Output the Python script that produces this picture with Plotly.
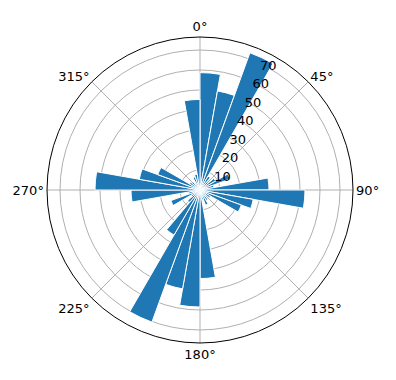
import plotly.graph_objects as go

# sector centers (degrees, clockwise from north) and bar heights
theta_deg = [5, 15, 25, 35, 45, 55, 65, 75, 85, 95, 105, 115, 125, 135, 145, 155, 165, 175,
             185, 195, 205, 215, 225, 235, 245, 255, 265, 275, 285, 295, 305, 315, 325, 335, 345, 355]
heights = [58.7, 50.3, 73.0, 8.0, 5.0, 9.0, 16.0, 7.0, 34.5, 52.5, 27.0, 22.0, 6.0, 4.0, 6.0, 8.0, 5.0, 44.3,
           58.5, 50.2, 70.3, 26.0, 8.0, 5.0, 15.5, 6.0, 34.5, 52.5, 30.8, 22.5, 6.0, 5.0, 4.0, 7.0, 8.0, 45.3]
bar_width = 10

angle_ticks = [0, 45, 90, 135, 180, 225, 270, 315]
angle_labels = ["0°", "45°", "90°", "135°", "180°", "225°", "270°", "315°"]
radial_ticks = [10, 20, 30, 40, 50, 60, 70]

fig = go.Figure(go.Barpolar(
    r=heights,
    theta=theta_deg,
    width=[bar_width] * len(theta_deg),
    marker=dict(color="#1f77b4", line=dict(color="white", width=1)),
))

W, H = 396, 380
cx, cy, R = 200, 190, 153
fig.update_layout(
    width=W, height=H,
    margin=dict(l=0, r=0, t=0, b=0),
    paper_bgcolor="white",
    showlegend=False,
    font=dict(family="DejaVu Sans", size=13, color="black"),
    polar=dict(
        domain=dict(x=[(cx - R) / W, (cx + R) / W], y=[1 - (cy + R) / H, 1 - (cy - R) / H]),
        bgcolor="white",
        bargap=0,
        angularaxis=dict(
            rotation=90, direction="clockwise",
            tickvals=angle_ticks, ticktext=angle_labels,
            showgrid=True, gridcolor="#b0b0b0", gridwidth=1,
            showline=True, linecolor="black", linewidth=1,
            ticks="", tickfont=dict(size=13),
        ),
        radialaxis=dict(
            range=[0, 76.5],
            tickvals=radial_ticks,
            angle=67.5, tickangle=67.5,
            showgrid=True, gridcolor="#b0b0b0", gridwidth=1,
            showline=False, ticks="",
            tickfont=dict(size=13),
        ),
    ),
)

fig.write_html("out.html")
